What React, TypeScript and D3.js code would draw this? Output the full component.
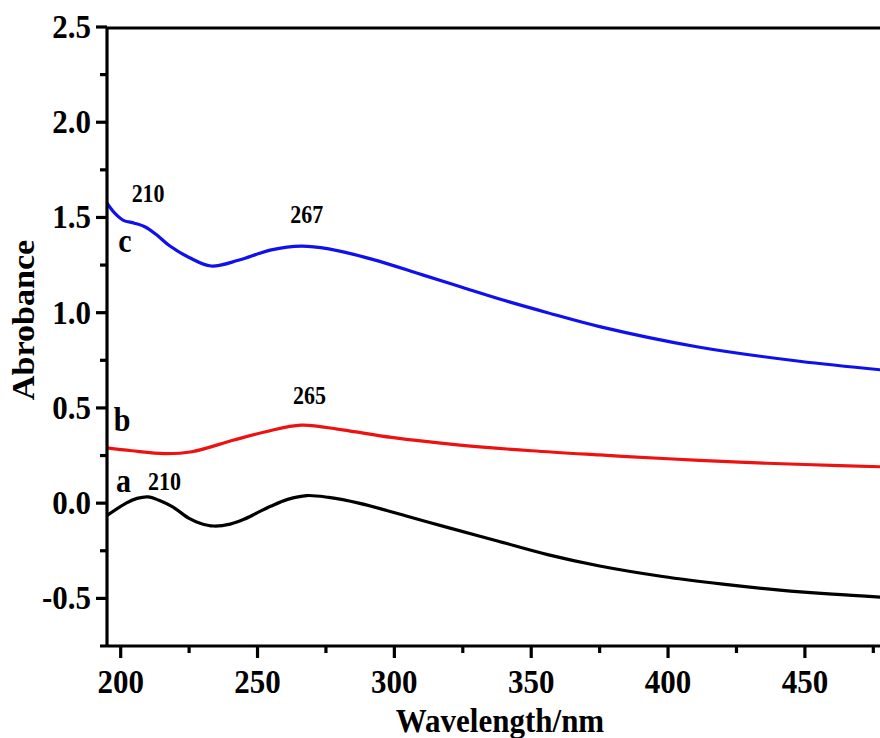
import React, { useEffect, useRef } from 'react';
import * as d3 from 'd3';

// wavelength (nm) / absorbance
const waveA = [195, 202, 206, 210, 214, 219, 225, 229, 234, 240, 245, 250, 255, 261, 268, 276, 287, 305, 320, 338, 356, 375, 398, 420, 440, 460, 480];
const absA = [-0.065, 0.0, 0.025, 0.033, 0.015, -0.02, -0.08, -0.105, -0.12, -0.11, -0.085, -0.05, -0.015, 0.02, 0.04, 0.03, 0.0, -0.07, -0.13, -0.2, -0.27, -0.33, -0.385, -0.425, -0.455, -0.478, -0.495];

const waveB = [195, 204, 216, 226, 241, 253, 266, 281, 299, 324, 350, 375, 400, 426, 450, 480];
const absB = [0.29, 0.275, 0.26, 0.27, 0.33, 0.375, 0.41, 0.385, 0.345, 0.305, 0.275, 0.253, 0.233, 0.215, 0.203, 0.19];

const waveC = [195, 198, 201, 205, 209, 213, 218, 225, 233, 243, 255, 266, 276, 292, 310, 325, 340, 356, 375, 411, 448, 480];
const absC = [1.575, 1.52, 1.485, 1.47, 1.45, 1.41, 1.35, 1.29, 1.245, 1.275, 1.33, 1.35, 1.335, 1.28, 1.2, 1.132, 1.065, 1.0, 0.927, 0.82, 0.745, 0.697];

const xMajorTicks = [200, 250, 300, 350, 400, 450];
const xMinorTicks = [225, 275, 325, 375, 425, 475];
const yMajorTicks = [-0.5, 0.0, 0.5, 1.0, 1.5, 2.0, 2.5];
const yMinorTicks = [-0.25, 0.25, 0.75, 1.25, 1.75, 2.25];

// curve letters and peak labels: [text, wavelength, absorbance]
const curveLabels: [string, number, number][] = [
    ['c', 201.5, 1.32],
    ['b', 200.5, 0.38],
    ['a', 201, 0.06],
];
const peakLabels: [string, number, number][] = [
    ['210', 204, 1.58],
    ['267', 262, 1.47],
    ['265', 263, 0.52],
    ['210', 210, 0.07],
];

const series = [
    { name: 'a', wave: waveA, abs: absA, color: '#000000' },
    { name: 'b', wave: waveB, abs: absB, color: '#ee1111' },
    { name: 'c', wave: waveC, abs: absC, color: '#1010ee' },
];

const App = () => {
    const ref = useRef<SVGSVGElement>(null);

    useEffect(() => {
        const width = 880;
        const svg = d3.select(ref.current);
        svg.selectAll('*').remove();

        const xScale = d3.scaleLinear().domain([195, 480]).range([107, 887]);
        const yScale = d3.scaleLinear().domain([-0.75, 2.5]).range([646, 27]);

        const font = '"Liberation Serif", "Times New Roman", serif';
        const stretch = 1.1;

        const lineGen = d3.line<[number, number]>()
            .x(d => xScale(d[0]))
            .y(d => yScale(d[1]))
            .curve(d3.curveCatmullRom.alpha(0.5));

        svg.append('clipPath').attr('id', 'plotClip')
            .append('rect')
            .attr('x', 107).attr('y', 27)
            .attr('width', width - 107).attr('height', 646 - 27);

        const curves = svg.append('g').attr('clip-path', 'url(#plotClip)');
        series.forEach(s => {
            const pts = s.wave.map((w, i) => [w, s.abs[i]] as [number, number]);
            curves.append('path')
                .attr('d', lineGen(pts))
                .attr('fill', 'none')
                .attr('stroke', s.color)
                .attr('stroke-width', 3.2)
                .attr('stroke-linejoin', 'round');
        });

        const fmt = (v: number) => d3.format('.1f')(v).replace('\u2212', '-');

        // axis frame
        const axis = svg.append('g').attr('stroke', '#000').attr('stroke-width', 3.2);
        axis.append('line').attr('x1', 107).attr('x2', width).attr('y1', 28).attr('y2', 28);
        axis.append('line').attr('x1', 107).attr('x2', 107).attr('y1', 27).attr('y2', 647);
        axis.append('line').attr('x1', 100).attr('x2', width).attr('y1', 646).attr('y2', 646);

        axis.selectAll('.yMaj').data(yMajorTicks).enter().append('line')
            .attr('x1', 96).attr('x2', 107)
            .attr('y1', d => yScale(d)).attr('y2', d => yScale(d));
        axis.selectAll('.yMin').data(yMinorTicks).enter().append('line')
            .attr('x1', 100).attr('x2', 107)
            .attr('y1', d => yScale(d)).attr('y2', d => yScale(d));
        axis.selectAll('.xMaj').data(xMajorTicks).enter().append('line')
            .attr('x1', d => xScale(d)).attr('x2', d => xScale(d))
            .attr('y1', 646).attr('y2', 658);
        axis.selectAll('.xMin').data(xMinorTicks).enter().append('line')
            .attr('x1', d => xScale(d)).attr('x2', d => xScale(d))
            .attr('y1', 646).attr('y2', 653);

        const addText = (txt: string, x: number, y: number, size: number, anchor: string, rotate = false) => {
            svg.append('text')
                .attr('transform', `translate(${x},${y}) scale(1,${stretch})${rotate ? ' rotate(-90)' : ''}`)
                .attr('text-anchor', anchor)
                .attr('font-family', font)
                .attr('font-weight', 'bold')
                .attr('font-size', size)
                .attr('fill', '#000')
                .text(txt);
        };

        yMajorTicks.forEach(v => addText(fmt(v), 91, yScale(v) + 11, 31, 'end'));
        xMajorTicks.forEach(v => addText(String(v), xScale(v), 693, 31, 'middle'));

        addText('Wavelength/nm', 500, 732, 31, 'middle');
        addText('Abrobance', 34, 320, 31, 'middle', true);

        curveLabels.forEach(([t, w, v]) => addText(t, xScale(w), yScale(v), 30, 'middle'));
        peakLabels.forEach(([t, w, v]) => addText(t, xScale(w), yScale(v), 22, 'start'));
    }, []);

    return (
        <svg ref={ref} width={880} height={738}
            style={{ position: 'absolute', left: 0, top: 0, background: '#fff' }} />
    );
};

export default App;
